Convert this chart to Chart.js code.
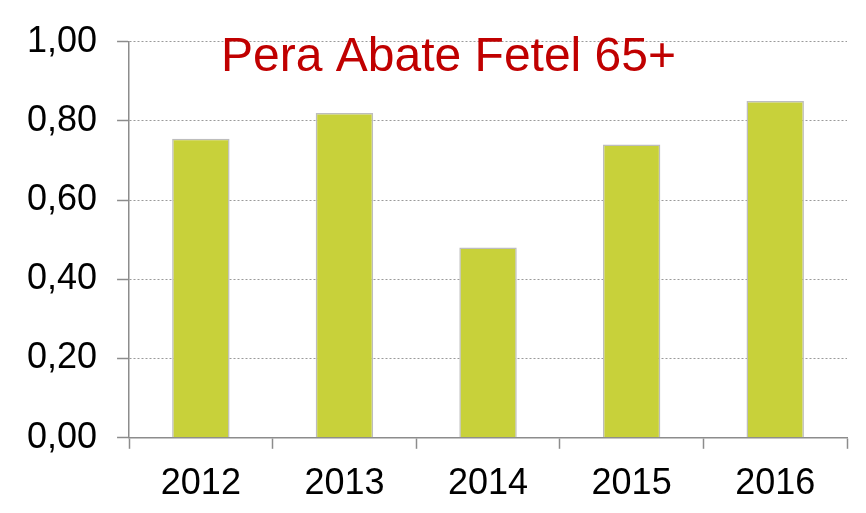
<!DOCTYPE html>
<html lang="it">
<head>
  <meta charset="UTF-8" />
  <title>Pera Abate Fetel 65+</title>
  <script src="https://cdn.jsdelivr.net/npm/chart.js"></script>
  <style>
    html, body { margin: 0; padding: 0; background: #fff; }
    #wrap { width: 866px; height: 513px; }
  </style>
</head>
<body>
  <div id="wrap"><canvas id="chart"></canvas></div>

  <script>
    // data
    const years = ['2012', '2013', '2014', '2015', '2016'];
    const values = [0.755, 0.82, 0.48, 0.74, 0.85];
    const chartTitle = 'Pera Abate Fetel 65+';

    // title sits inside the plot area, not centred on it
    const titleInPlot = {
      id: 'titleInPlot',
      afterDraw(chart) {
        const ctx = chart.ctx;
        const area = chart.chartArea;
        ctx.save();
        ctx.font = '48px "Liberation Sans", Arial, sans-serif';
        ctx.fillStyle = '#C00000';
        ctx.textAlign = 'left';
        ctx.textBaseline = 'alphabetic';
        ctx.fillText(chartTitle, area.left + 92, area.top + 29);
        ctx.restore();
      }
    };

    const ctx = document.getElementById('chart').getContext('2d');
    new Chart(ctx, {
      type: 'bar',
      data: {
        labels: years,
        datasets: [{
          data: values,
          backgroundColor: '#C8D13A',
          borderColor: '#BDBDBD',
          borderWidth: 1.5,
          categoryPercentage: 1,
          barPercentage: 0.4
        }]
      },
      options: {
        responsive: true,
        maintainAspectRatio: false,
        animation: false,
        layout: { padding: { left: 7, right: 19, top: 16, bottom: -7 } },
        plugins: {
          legend: { display: false },
          tooltip: { enabled: false }
        },
        scales: {
          x: {
            grid: {
              offset: true,
              drawOnChartArea: false,
              tickLength: 11,
              tickColor: '#8C8C8C',
              tickWidth: 1.5
            },
            border: { color: '#8C8C8C', width: 1.5 },
            ticks: {
              color: '#000',
              padding: 14,
              font: { family: '"Liberation Sans", Arial, sans-serif', size: 36 }
            }
          },
          y: {
            min: 0,
            max: 1,
            grid: {
              color: '#9A9A9A',
              lineWidth: 1,
              tickLength: 12,
              tickColor: '#8C8C8C',
              tickWidth: 1.5,
              tickBorderDash: []
            },
            border: { color: '#8C8C8C', width: 1.5, dash: [2, 2] },
            ticks: {
              stepSize: 0.2,
              color: '#000',
              padding: 20,
              font: { family: '"Liberation Sans", Arial, sans-serif', size: 36 },
              callback: v => v.toFixed(2).replace('.', ',')
            }
          }
        }
      },
      plugins: [titleInPlot]
    });
  </script>
</body>
</html>
